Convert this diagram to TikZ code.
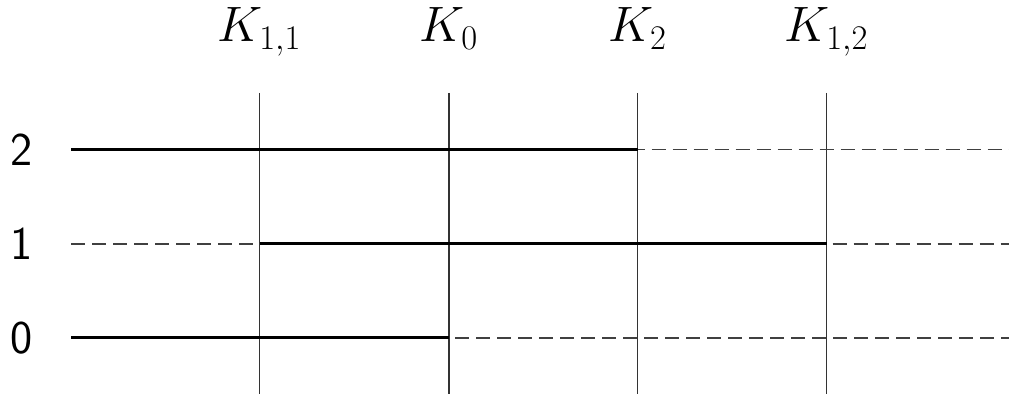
\documentclass[tikz,border=0pt]{standalone}
\begin{document}
\begin{tikzpicture}[x=0.5pt,y=-0.5pt,
  vline/.style={line width=0.55pt, black!80},
  solidseg/.style={line width=1.5pt, black},
  dashseg/.style={line width=0.6pt, black!75, dash pattern=on 7pt off 3.5pt},
  klabel/.style={anchor=base, font=\fontsize{23.5}{28}\selectfont},
  rlabel/.style={anchor=center, font=\fontsize{23.5}{28}\selectfont\sffamily}]
\useasboundingbox (0,0) rectangle (1009,394);
% columns
\foreach \n/\x in {a/259.7, b/449, c/637.7, d/826.7}{
  \coordinate (\n top) at (\x,93);
  \coordinate (\n bot) at (\x,394);
}
\node[klabel] (ka) at (259.7,42) {$K_{1,1}$};
\node[klabel] (kb) at (449,42) {$K_0$};
\node[klabel] (kc) at (637.7,42) {$K_2$};
\node[klabel] (kd) at (826.7,42) {$K_{1,2}$};
\foreach \n in {a,b,c,d}{ \draw[vline] (\n top) -- (\n bot); }
% rows
\node[rlabel] (r2) at (22,150) {2};
\node[rlabel] (r1) at (22,244) {1};
\node[rlabel] (r0) at (22,338) {0};
\foreach \r/\y in {2/149.5, 1/244, 0/338}{
  \coordinate (s\r) at (71,\y);
  \coordinate (e\r) at (1009,\y);
  \coordinate (a\r) at (259.7,\y);
  \coordinate (b\r) at (449,\y);
  \coordinate (c\r) at (637.7,\y);
  \coordinate (d\r) at (826.7,\y);
}
% row 2
\draw[solidseg] (s2) -- (c2);
\draw[dashseg, dash phase=-7pt] (c2) -- (e2);
% row 1
\draw[dashseg] (s1) -- (a1);
\draw[solidseg] (a1) -- (d1);
\draw[dashseg, dash phase=-3pt] (d1) -- (e1);
% row 0
\draw[solidseg] (s0) -- (b0);
\draw[dashseg, dash phase=-3pt] (b0) -- (e0);
\end{tikzpicture}
\end{document}
